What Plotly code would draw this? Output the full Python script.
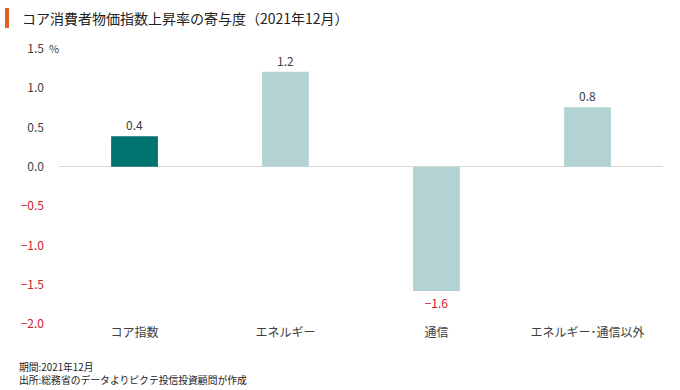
import plotly.graph_objects as go

categories = ["コア指数", "エネルギー", "通信", "エネルギー･通信以外"]
values = [0.39, 1.21, -1.58, 0.76]
bar_colors = ["#00736e", "#b3d3d3", "#b3d3d3", "#b3d3d3"]
tick_vals = [1.5, 1.0, 0.5, 0.0, -0.5, -1.0, -1.5, -2.0]

FONT = "Noto Sans CJK JP"
L, R, T, B = 59, 17, 49, 66
PW, PH = 680 - L - R, 390 - T - B

def px(x):
    return (x - L) / PW

def py(y):
    return (390 - B - y) / PH

def fmt(v):
    s = f"{abs(v):.1f}"
    if v < 0:
        return f"<span style='color:#d0202a'>−{s}</span>"
    return s

tick_text = [fmt(v) for v in tick_vals]
label_text = [fmt(v) for v in values]

fig = go.Figure()
fig.add_trace(go.Bar(
    x=categories, y=values,
    marker=dict(color=bar_colors, line=dict(width=0)),
    width=0.31,
    text=label_text, textposition="outside",
    textfont=dict(family=FONT, size=12, color="#404040"),
    cliponaxis=False,
    hoverinfo="skip",
))

fig.update_layout(
    width=680, height=390,
    margin=dict(l=L, r=R, t=T, b=B),
    paper_bgcolor="white", plot_bgcolor="white",
    showlegend=False,
    font=dict(family=FONT, size=12, color="#404040"),
)
fig.update_yaxes(
    range=[-2.0, 1.5], tickvals=tick_vals, ticktext=tick_text,
    showgrid=False, zeroline=True, zerolinecolor="#d9d9d9", zerolinewidth=1,
    showline=False, ticks="", ticklabelstandoff=14,
    tickfont=dict(family=FONT, size=12, color="#404040"),
)
fig.update_xaxes(
    showgrid=False, showline=False, ticks="",
    tickfont=dict(family=FONT, size=12, color="#404040"),
)

# title with orange marker
fig.add_shape(type="rect", xref="paper", yref="paper",
              x0=px(5), x1=px(9), y0=py(28), y1=py(8),
              fillcolor="#e06020", line=dict(width=0))
fig.add_annotation(text="コア消費者物価指数上昇率の寄与度（2021年12月）",
                   xref="paper", yref="paper", x=px(20), y=py(18),
                   xanchor="left", yanchor="middle", showarrow=False,
                   font=dict(family=FONT, size=14, color="#222222"))
fig.add_annotation(text="%", xref="paper", yref="paper", x=px(47), y=py(48),
                   xanchor="left", yanchor="middle", showarrow=False,
                   font=dict(family=FONT, size=11, color="#404040"))
fig.add_annotation(text="期間:2021年12月", xref="paper", yref="paper",
                   x=px(17), y=py(367), xanchor="left", yanchor="middle",
                   showarrow=False,
                   font=dict(family=FONT, size=9.8, color="#222222"))
fig.add_annotation(text="出所:総務省のデータよりピクテ投信投資顧問が作成",
                   xref="paper", yref="paper", x=px(17), y=py(380),
                   xanchor="left", yanchor="middle", showarrow=False,
                   font=dict(family=FONT, size=9.8, color="#222222"))

fig.write_html("out.html", config={"displayModeBar": False},
               post_script="document.body.style.margin='0';")
